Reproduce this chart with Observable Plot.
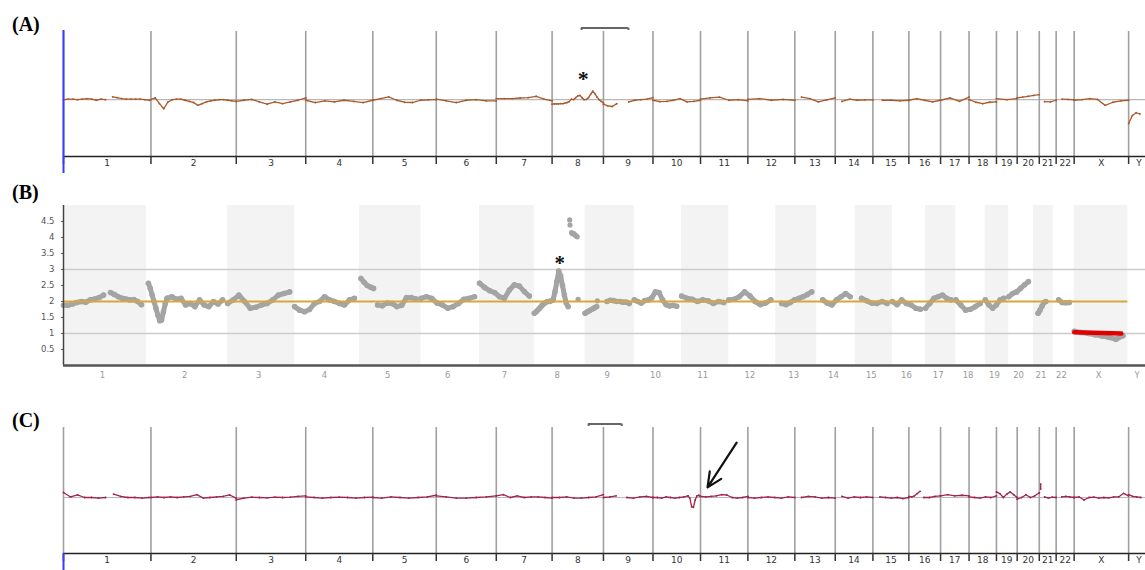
<!DOCTYPE html>
<html><head><meta charset="utf-8">
<script src="https://cdn.jsdelivr.net/npm/d3@7"></script>
<script src="https://cdn.jsdelivr.net/npm/@observablehq/plot@0.6"></script>
<style>
html,body{margin:0;padding:0;background:#fff;}
#root{position:relative;width:1145px;height:570px;overflow:hidden;background:#fff;}
.panel{position:absolute;left:0;}
.tag{position:absolute;left:12px;font-family:"Liberation Serif","Times New Roman",serif;font-weight:bold;font-size:20px;color:#000;line-height:1;}
</style></head><body><div id="root">
<div class="panel" id="pa" style="top:0px"></div>
<div class="panel" id="pb" style="top:180px"></div>
<div class="panel" id="pc" style="top:400px"></div>
<div class="tag" style="top:14px">(A)</div>
<div class="tag" style="top:182px">(B)</div>
<div class="tag" style="top:410px">(C)</div>
</div>
<script>
// ---------- data ----------
const chromosomes = ["1","2","3","4","5","6","7","8","9","10","11","12","13","14","15","16","17","18","19","20","21","22","X","Y"];
const chromLengthMb = [249.3,243.2,198.0,191.2,180.9,171.1,159.1,146.4,141.2,135.5,135.0,133.9,115.2,107.3,102.5,90.4,81.2,78.1,59.1,63.0,48.1,51.3,155.3,59.4];

// Panel A: log2 ratio, segments [chromosome, startMb, endMb, evenly spaced values]
const profileA = [
  ["1", 0, 120, [0, 0.01, 0.01, 0, 0.01, 0.02, 0.01, -0.01, 0.01, 0]],
  ["1", 140, 245, [0.05, 0.035, 0.02, 0.01, 0.01, 0.01, 0.01, 0, -0.01]],
  ["2", 0, 243, [0, 0.03, -0.07, -0.16, -0.04, 0, 0.01, 0.01, -0.01, -0.03, -0.05, -0.1, -0.07, -0.04, -0.02, -0.01, 0, 0, -0.01, -0.02, -0.03]],
  ["3", 0, 198, [-0.03, -0.01, 0.005, -0.04, -0.08, -0.04, -0.07, -0.04, -0.01, 0.03]],
  ["4", 0, 191, [-0.01, -0.05, -0.02, -0.04, -0.01, -0.03, -0.05, -0.01]],
  ["5", 0, 181, [-0.01, 0.02, 0.05, -0.01, -0.045, -0.05, -0.01, -0.005, 0]],
  ["6", 0, 171, [0.01, -0.02, -0.05, -0.01, 0, -0.02, -0.02]],
  ["7", 0, 159, [0.02, 0.02, 0.02, 0.03, 0.035, 0.06, 0.01, -0.02]],
  ["8", 0, 146.4, [-0.08, -0.075, -0.075, -0.075, -0.07, -0.07, -0.06, -0.05, -0.035, 0.01, 0, 0.035, 0.065, 0.075, 0.035, 0, 0.005, 0.035, 0.095, 0.15, 0.105, 0.045, 0, -0.03, -0.06]],
  ["9", 0, 38, [-0.08, -0.11, -0.12, -0.07]],
  ["9", 72, 141, [-0.04, -0.01, 0, 0.01, 0.035]],
  ["10", 0, 135.5, [-0.01, -0.035, -0.03, -0.01, 0.02, -0.04, -0.03, -0.01]],
  ["11", 0, 135, [0.01, 0.03, 0.045, -0.01, 0, -0.02]],
  ["12", 0, 134, [0.005, 0.02, -0.01, 0.005, -0.01]],
  ["13", 19, 115, [0.045, 0.02, -0.04, -0.005, 0.03]],
  ["14", 19, 107, [-0.03, 0.01, -0.01, -0.005, -0.005]],
  ["15", 27, 102.5, [-0.01, -0.01, -0.02, -0.01]],
  ["16", 0, 90, [-0.01, 0.02, -0.01, -0.04, -0.01]],
  ["17", 0, 81, [-0.01, 0.03, -0.03, 0.045]],
  ["18", 0, 78, [0, -0.045, -0.07, -0.045, -0.04]],
  ["19", 0, 59, [0.02, 0, 0.02]],
  ["20", 0, 63, [0.03, 0.045, 0.06, 0.075, 0.09]],
  ["21", 15, 48, [-0.035, -0.04, -0.01]],
  ["22", 17, 51, [0.01, 0.005, -0.005]],
  ["X", 0, 155, [-0.01, 0, 0.02, 0.005, -0.1, -0.045, -0.02, -0.01]],
  ["Y", 0, 32, [-0.42, -0.28, -0.23, -0.25]]
];

// Panel B: copy number, segments [chromosome, startMb, endMb, evenly spaced values]
const profileB = [
  ["1", 0, 128, [1.88, 1.88, 1.92, 1.97, 2.0, 1.98, 2.05, 2.08, 2.12, 2.2]],
  ["1", 150, 249, [2.28, 2.22, 2.15, 2.1, 2.08, 2.05, 2.06, 2.0, 1.9]],
  ["2", 6, 66, [2.57, 2.41, 2.2, 2.0, 1.79, 1.58, 1.4, 1.42, 1.68, 1.94, 2.1]],
  ["2", 66, 243, [2.1, 2.15, 2.07, 2.1, 1.89, 1.94, 1.84, 2.05, 1.89, 1.84, 2.0, 1.92, 2.05]],
  ["3", 0, 198, [1.94, 2.05, 2.2, 2.0, 1.79, 1.82, 1.89, 1.94, 2.05, 2.2, 2.25, 2.3]],
  ["4", 0, 191, [1.84, 1.73, 1.68, 1.75, 1.94, 2.0, 2.15, 2.05, 2.0, 1.94, 1.89, 2.05, 2.1]],
  ["5", 5, 45, [2.72, 2.6, 2.5, 2.45, 2.41]],
  ["5", 58, 181, [1.89, 1.87, 1.95, 1.94, 1.84, 1.88, 2.12, 2.12, 2.08]],
  ["6", 0, 171, [2.1, 2.15, 2.1, 1.95, 1.89, 1.79, 1.84, 1.94, 2.07, 2.1, 2.15]],
  ["7", 0, 159, [2.57, 2.44, 2.34, 2.28, 2.15, 2.1, 2.36, 2.52, 2.48, 2.31, 2.17]],
  ["8", 0, 108, [1.63, 1.68, 1.74, 1.8, 1.87, 1.93, 1.97, 2.0, 2.0, 2.02, 2.05, 2.3, 2.62, 2.95, 2.8, 2.5, 2.2, 1.95, 1.84]],
  ["9", 0, 37, [1.63, 1.68, 1.72, 1.76, 1.8, 1.84]],
  ["9", 70, 141, [2.0, 2.04, 2.03, 2.0, 2.0, 1.98, 1.98, 1.94]],
  ["10", 0, 135.5, [2.05, 2.0, 1.95, 2.03, 2.05, 2.12, 2.3, 2.28, 2.05, 1.9, 1.86, 1.88, 1.85]],
  ["11", 0, 135, [2.17, 2.1, 2.07, 2.0, 2.05, 2.02, 1.94, 2.0, 1.97]],
  ["12", 0, 134, [2.05, 2.07, 2.15, 2.3, 2.18, 2.0, 1.9, 1.95, 2.05]],
  ["13", 19, 115, [1.94, 1.9, 1.97, 2.05, 2.1, 2.15, 2.22, 2.3]],
  ["14", 19, 107, [2.05, 1.95, 1.89, 2.05, 2.15, 2.25, 2.15]],
  ["15", 20, 102, [2.1, 2.02, 1.95, 1.94, 2.0, 1.94]],
  ["16", 0, 90, [2.0, 1.9, 2.05, 1.94, 1.89, 1.79, 1.76]],
  ["17", 0, 81, [1.79, 1.94, 2.1, 2.15, 2.2, 2.1, 2.05]],
  ["18", 0, 78, [2.05, 1.89, 1.73, 1.76, 1.84, 1.94]],
  ["19", 0, 59, [2.05, 1.89, 1.79, 1.89, 2.05, 2.1]],
  ["20", 0, 63, [2.15, 2.25, 2.3, 2.41, 2.52, 2.62]],
  ["21", 15, 40, [1.63, 1.73, 1.85, 1.97, 2.0]],
  ["22", 17, 51, [2.05, 1.97, 1.96, 1.97]],
  ["X", 0, 155, [1.07, 1.03, 1.0, 0.96, 0.92, 0.88, 0.82, 0.93]]
];
// isolated probes in panel B [chromosome, Mb, copy number]
const pointsB = [
  ["8", 113, 4.55], ["8", 114, 4.39], ["8", 119, 4.15], ["8", 122, 4.12], ["8", 126, 4.12],
  ["8", 130, 4.08], ["8", 134, 4.05], ["8", 137, 4.02], ["8", 140, 2.07], ["9", 39, 2.02]
];
// called segment (red) in panel B
const callB = [["X", 0, 150, [1.04, 1.0]]];
const ploidyB = 2;
const guidesB = [1, 3];
const yTicksB = [0.5, 1, 1.5, 2, 2.5, 3, 3.5, 4, 4.5];

// Panel C: log2 ratio segments
const profileC = [
  ["1", 0, 120, [0.09, 0.01, 0.045, 0, 0, -0.01, 0]],
  ["1", 143, 244, [0.06, 0.02, 0, 0, -0.01, 0]],
  ["2", 0, 243, [0, 0.01, 0, 0.01, 0, 0.01, 0.02, 0.05, -0.01, 0, 0.01, 0.02, 0.045, -0.01]],
  ["3", 0, 198, [-0.04, -0.01, 0.005, 0, -0.005, 0.005, 0, 0.005, 0.02, 0.03]],
  ["4", 0, 191, [0.01, 0, -0.01, 0, 0.005, 0, -0.01, 0, 0.005]],
  ["5", 0, 181, [0, -0.01, 0.01, 0, -0.01, 0, 0.01, 0.04]],
  ["6", 0, 171, [0.03, 0.01, -0.01, -0.01, 0, 0.01, 0.03]],
  ["7", 0, 159, [0.03, 0.05, 0, 0.03, 0, 0.01, 0.01, 0, -0.01]],
  ["8", 0, 146, [0, 0, 0.01, -0.01, -0.01, 0, 0.01, 0.05]],
  ["9", 0, 36, [0, 0.01, 0.03]],
  ["9", 67, 141, [0, -0.01, 0.01, 0.02, 0]],
  ["10", 0, 100, [0, 0, -0.01, 0.01, 0, -0.01, 0, 0.01, 0.03]],
  ["10", 100, 135.5, [0.03, -0.01, -0.165, -0.175, -0.045, 0.03, 0.04, 0.02]],
  ["11", 0, 135, [0.02, 0.01, 0.02, 0.03, 0.05, 0.045, 0, -0.01, 0, 0.02]],
  ["12", 0, 134, [0, -0.01, 0, 0.01, 0, -0.01, 0.01, 0]],
  ["13", 19, 115, [0, 0.02, 0.01, -0.01, 0, -0.01]],
  ["14", 19, 107, [0.02, -0.01, 0.01, 0, 0.01, 0]],
  ["15", 20, 102, [0.01, 0, -0.01, 0, -0.02, 0]],
  ["16", 0, 32, [0.02, 0.01, 0.03, 0.07, 0.11]],
  ["16", 43, 90, [0, 0, 0.02, 0.03]],
  ["17", 0, 81, [0.03, 0.05, 0.03, 0.04, 0.03]],
  ["18", 0, 78, [0.01, 0, -0.01, 0.01, 0, 0.03]],
  ["19", 0, 59, [0.1, 0.07, 0, 0.06, 0.1, 0.05, 0]],
  ["20", 0, 63, [-0.03, 0, 0.05, 0, 0.03, 0.085]],
  ["21", 4, 4, [0.24, 0.15]],
  ["21", 15, 48, [0.01, -0.01, 0.005, 0]],
  ["22", 16, 51, [0.01, 0.02, 0.01, 0]],
  ["X", 0, 155, [0, 0.01, -0.045, 0, 0.005, -0.01, 0, -0.005, 0.01, 0.01, 0.075, 0.03]],
  ["Y", 0, 35, [0.05, 0.02, 0.01, 0]]
];

// annotations
const asteriskA = [["8", 89, 0.47]];
const asteriskB = [["8", 81, 3.38]];
const windowA = [["8", 84], ["9", 71]];
const windowC = [["8", 104], ["9", 52]];
const arrowC = [[["11", 103, 0.98], ["11", 20, 0.18]]];

// ---------- layout helpers ----------
const PAD_B = 15.7;
const cum = {}, cumB = {};
let acc = 0, accB = 0;
chromosomes.forEach((c, i) => { cum[c] = acc; acc += chromLengthMb[i]; cumB[c] = accB; accB += chromLengthMb[i] + PAD_B; });
const genome = acc;
const lenOf = Object.fromEntries(chromosomes.map((c, i) => [c, chromLengthMb[i]]));

function expand(profile, offs) {
  const rows = [];
  profile.forEach(([c, a, b, vals], k) => {
    const n = vals.length;
    vals.forEach((v, i) => rows.push({seg: k, g: offs[c] + (n > 1 ? a + (b - a) * i / (n - 1) : a), v}));
  });
  return rows;
}
const dataA = expand(profileA, cum);
const dataB = expand(profileB, cumB);
const dataC = expand(profileC, cum);
const redB = expand(callB, cumB);

const boundaries = chromosomes.map(c => cum[c]);
const centers = chromosomes.map(c => cum[c] + lenOf[c] / 2);
const centerLabel = new Map(centers.map((v, i) => [v, chromosomes[i]]));
const centersB = chromosomes.map(c => cumB[c] + lenOf[c] / 2);
const centerLabelB = new Map(centersB.map((v, i) => [v, chromosomes[i]]));

const FONT = "DejaVu Sans, Verdana, sans-serif";

function genomePanel({height, top, bottom, ydom, profile, color, blueFull, windowSel, extra}) {
  const xScale = {domain: [0, genome], range: [63, 63 + genome * 0.3508], axis: null};
  return Plot.plot({
    width: 1145, height, marginTop: top, marginBottom: height - bottom, marginLeft: 63, marginRight: 0,
    x: xScale,
    y: {domain: ydom, range: [bottom, top], axis: null},
    style: {fontFamily: FONT, fontSize: "9px", background: "transparent", overflow: "visible"},
    marks: [
      Plot.ruleY([0], {stroke: "#b8b8b8", strokeWidth: 1.2}),
      Plot.ruleX(boundaries, {stroke: "#a0a0a0", strokeWidth: 1.6}),
      Plot.ruleY([ydom[0]], {stroke: "#222", strokeWidth: 1.5}),
      Plot.ruleX(boundaries, {y1: ydom[0], y2: ydom[0], insetBottom: -8, stroke: "#333", strokeWidth: 1.5}),
      Plot.axisX(centers, {tickSize: 0, tickPadding: 3, tickFormat: d => centerLabel.get(d), label: null, fill: "#333", fontSize: 9}),
      Plot.line(profile, {x: "g", y: "v", z: "seg", stroke: color, strokeWidth: 1.3}),
      Plot.dot(profile, {x: "g", y: "v", r: 0.9, fill: color}),
      blueFull
        ? Plot.ruleX([0], {y1: ydom[1], y2: ydom[0], insetTop: -1, insetBottom: -17, stroke: "#3b3bff", strokeWidth: 2})
        : Plot.ruleX([0], {y1: ydom[0], y2: ydom[0], insetBottom: -17, stroke: "#3b3bff", strokeWidth: 2}),
      Plot.ruleY([ydom[1]], {x1: cum[windowSel[0][0]] + windowSel[0][1], x2: cum[windowSel[1][0]] + windowSel[1][1], dy: -3.5, stroke: "#666", strokeWidth: 2}),
      Plot.ruleX(windowSel, {x: d => cum[d[0]] + d[1], y1: ydom[1], y2: ydom[1], dy: -3.5, insetBottom: -2.5, stroke: "#666", strokeWidth: 2}),
      ...extra
    ]
  });
}

const plotA = genomePanel({
  height: 175, top: 31, bottom: 156, ydom: [-1, 1.2], profile: dataA, color: "#a85a2c", blueFull: true, windowSel: windowA,
  extra: [
    Plot.text(asteriskA, {x: d => cum[d[0]] + d[1], y: d => d[2], text: () => "*", fontSize: 22, fontWeight: "bold", fontFamily: "Liberation Serif, serif", fill: "#111", dy: 6})
  ]
});
document.getElementById("pa").appendChild(plotA);

const plotC = genomePanel({
  height: 170, top: 27, bottom: 153, ydom: [-1, 1.25], profile: dataC, color: "#a3244a", blueFull: false, windowSel: windowC,
  extra: [
    Plot.arrow(arrowC, {
      x1: d => cum[d[0][0]] + d[0][1], y1: d => d[0][2],
      x2: d => cum[d[1][0]] + d[1][1], y2: d => d[1][2],
      stroke: "#111", strokeWidth: 2.2, headLength: 11, headAngle: 50
    })
  ]
});
document.getElementById("pc").appendChild(plotC);

const bandsB = chromosomes.map((c, i) => ({x1: cumB[c], x2: cumB[c] + lenOf[c] + PAD_B, shade: i % 2 === 0}));
const plotB = Plot.plot({
  width: 1145, height: 205, marginTop: 25, marginBottom: 20, marginLeft: 63, marginRight: 0,
  x: {domain: [0, accB], range: [63, 63 + accB * 0.3133], axis: null},
  y: {domain: [0, 5], range: [185, 25], axis: null},
  style: {fontFamily: FONT, fontSize: "8.5px", background: "transparent"},
  marks: [
    Plot.rect(bandsB.filter(d => d.shade), {x1: "x1", x2: "x2", y1: 0, y2: 5, fill: "#f3f3f3"}),
    Plot.ruleY(guidesB, {stroke: "#cccccc", strokeWidth: 1.5}),
    Plot.line(dataB, {x: "g", y: "v", z: "seg", stroke: "#a4a4a4", strokeWidth: 5, strokeLinecap: "round", strokeLinejoin: "round"}),
    Plot.dot(dataB, {x: "g", y: "v", r: 2.8, fill: "#a4a4a4"}),
    Plot.dot(pointsB, {x: d => cumB[d[0]] + d[1], y: d => d[2], r: 2.6, fill: "#a4a4a4"}),
    Plot.ruleY([ploidyB], {x1: 0, x2: cumB["Y"], stroke: "#d6a83a", strokeWidth: 2}),
    Plot.line(redB, {x: "g", y: "v", z: "seg", stroke: "#e00000", strokeWidth: 4.5}),
    Plot.ruleX([0], {stroke: "#444", strokeWidth: 1.5}),
    Plot.ruleY([0], {stroke: "#555", strokeWidth: 2.5}),
    Plot.axisY(yTicksB, {tickSize: 2, tickPadding: 7, tickFormat: d => String(d), label: null, fill: "#555", stroke: "#555", fontSize: 8.5}),
    Plot.axisX(centersB, {tickSize: 0, tickPadding: 6, tickFormat: d => centerLabelB.get(d), label: null, fill: "#9a9a9a", fontSize: 8.5}),
    Plot.text(asteriskB, {x: d => cumB[d[0]] + d[1], y: d => d[2], text: () => "*", fontSize: 21, fontWeight: "bold", fontFamily: "Liberation Serif, serif", fill: "#111", dy: 6})
  ]
});
document.getElementById("pb").appendChild(plotB);
</script>
</body></html>
